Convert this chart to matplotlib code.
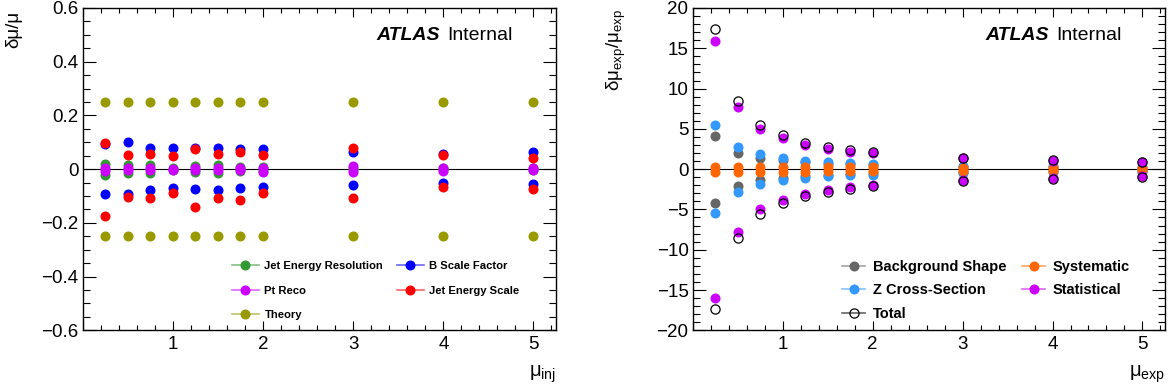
import matplotlib
matplotlib.use("Agg")
import matplotlib.pyplot as plt
from matplotlib.lines import Line2D
from matplotlib.ticker import MultipleLocator, FuncFormatter
from matplotlib.colors import to_rgba

plt.rcParams["font.family"] = ["Liberation Sans", "DejaVu Sans"]
plt.rcParams["mathtext.fontset"] = "custom"
plt.rcParams["mathtext.rm"] = "Liberation Sans"
plt.rcParams["mathtext.it"] = "Liberation Sans:italic"
plt.rcParams["mathtext.bf"] = "Liberation Sans:bold"

# --- injected-signal scan: relative uncertainty per source ---
mu_inj = [0.25, 0.5, 0.75, 1.0, 1.25, 1.5, 1.75, 2.0, 3, 4, 5]
jer_up = [0.020, 0.015, 0.015, 0.005, 0.012, 0.015, 0.008, 0.008, 0.005, 0.004, 0.003]
jer_dn = [-0.020, -0.015, -0.015, -0.005, -0.012, -0.015, -0.008, -0.008, -0.005, -0.004, -0.003]
bsf_up = [0.093, 0.101, 0.080, 0.080, 0.079, 0.079, 0.075, 0.074, 0.064, 0.057, 0.064]
bsf_dn = [-0.094, -0.091, -0.077, -0.069, -0.074, -0.077, -0.070, -0.067, -0.059, -0.053, -0.057]
ptreco_up = [0.005, 0.006, 0.004, 0.002, 0.003, 0.004, 0.003, 0.004, 0.012, 0.004, 0.004]
ptreco_dn = [-0.006, -0.005, -0.004, -0.003, -0.003, -0.004, -0.003, -0.010, -0.012, -0.006, -0.005]
jes_up = [0.099, 0.054, 0.058, 0.048, 0.075, 0.056, 0.064, 0.052, 0.080, 0.051, 0.043]
jes_dn = [-0.174, -0.104, -0.106, -0.090, -0.140, -0.106, -0.116, -0.089, -0.107, -0.065, -0.073]
theory_up = [0.25] * 11
theory_dn = [-0.25] * 11

# --- expected-signal scan ---
mu_exp = [0.25, 0.5, 0.75, 1.0, 1.25, 1.5, 1.75, 2.0, 3, 4, 5]
bkg_up = [4.15, 2.03, 1.33, 1.10, 0.85, 0.70, 0.60, 0.50, 0.30, 0.25, 0.20]
bkg_dn = [-4.20, -2.10, -1.37, -1.12, -0.88, -0.72, -0.62, -0.52, -0.30, -0.25, -0.20]
zxs_up = [5.44, 2.74, 1.83, 1.33, 1.04, 0.85, 0.74, 0.66, 0.41, 0.35, 0.30]
zxs_dn = [-5.50, -2.78, -1.87, -1.37, -1.08, -0.91, -0.77, -0.69, -0.50, -0.40, -0.35]
syst_up = [0.30, 0.30, 0.30, 0.30, 0.30, 0.28, 0.26, 0.25, 0.20, 0.18, 0.15]
syst_dn = [-0.30, -0.30, -0.30, -0.30, -0.30, -0.28, -0.26, -0.25, -0.20, -0.18, -0.15]
stat_up = [15.9, 7.76, 4.94, 3.82, 2.99, 2.53, 2.16, 1.95, 1.33, 1.04, 0.83]
stat_dn = [-16.0, -7.80, -4.98, -3.88, -3.05, -2.60, -2.24, -1.91, -1.37, -1.12, -0.91]
total_up = [17.35, 8.50, 5.48, 4.20, 3.28, 2.78, 2.40, 2.12, 1.42, 1.12, 0.90]
total_dn = [-17.4, -8.55, -5.56, -4.23, -3.32, -2.82, -2.42, -2.12, -1.45, -1.18, -0.95]

MS = 6.2
TICK_FS = 13.5


def num_fmt(v, _pos):
    return f"{round(v, 6):g}".replace("-", "\u2212")


def x_fmt(v, _pos):
    return "" if abs(v) < 1e-9 else num_fmt(v, _pos)


def style_axes(ax, ymaj, ymin):
    ax.set_xlim(0, 5.25)
    ax.xaxis.set_major_locator(MultipleLocator(1))
    ax.xaxis.set_minor_locator(MultipleLocator(0.2))
    ax.yaxis.set_major_locator(MultipleLocator(ymaj))
    ax.yaxis.set_minor_locator(MultipleLocator(ymin))
    ax.xaxis.set_major_formatter(FuncFormatter(x_fmt))
    ax.yaxis.set_major_formatter(FuncFormatter(num_fmt))
    ax.tick_params(which="both", direction="in", top=True, right=True,
                   width=0.8, labelsize=TICK_FS)
    ax.tick_params(axis="x", which="major", length=6.5, pad=4)
    ax.tick_params(axis="x", which="minor", length=3.3)
    ax.tick_params(axis="y", which="major", length=9.5, pad=3)
    ax.tick_params(axis="y", which="minor", length=5)
    for s in ax.spines.values():
        s.set_linewidth(1.0)
    ax.axhline(0, color="black", lw=0.8, zorder=1)


def band(ax, x, up, dn, color, hollow=False):
    kw = dict(ls="none", marker="o", ms=MS, color=color, zorder=3)
    if hollow:
        kw.update(mfc="none", mec=color, mew=0.9, ms=MS + 0.4)
    ax.plot(x, up, **kw)
    ax.plot(x, dn, **kw)


def handle(color, label, hollow=False):
    return Line2D([0], [0], color=to_rgba(color, 0.6), lw=1.2, marker="o",
                  ms=MS + (0.4 if hollow else 0),
                  mfc="none" if hollow else color, mec=color,
                  mew=0.9 if hollow else 1.0, label=label)


def atlas_label(ax):
    ax.text(0.62, 0.915, "ATLAS", transform=ax.transAxes, fontsize=14,
            fontweight="bold", fontstyle="italic", va="center")
    ax.text(0.77, 0.915, "Internal", transform=ax.transAxes, fontsize=14,
            va="center")


fig = plt.figure(figsize=(11.72, 3.92), dpi=100)
ax1 = fig.add_axes([0.0706, 0.1574, 0.4038, 0.8222])
ax2 = fig.add_axes([0.591, 0.1574, 0.403, 0.8222])

# left: systematic sources vs injected mu
c_jer, c_bsf, c_pt, c_jes, c_th = "#339933", "#0000ff", "#cc00ff", "#ff0000", "#999900"
band(ax1, mu_inj, jer_up, jer_dn, c_jer)
band(ax1, mu_inj, bsf_up, bsf_dn, c_bsf)
band(ax1, mu_inj, ptreco_up, ptreco_dn, c_pt)
band(ax1, mu_inj, jes_up, jes_dn, c_jes)
band(ax1, mu_inj, theory_up, theory_dn, c_th)
style_axes(ax1, 0.2, 0.05)
ax1.set_ylim(-0.6, 0.6)
ax1.set_ylabel("δμ/μ", fontsize=TICK_FS, loc="top")
ax1.yaxis.set_label_coords(-0.128, 0.99)
ax1.set_xlabel(r"μ$_{\rm inj}$", fontsize=TICK_FS + 1, loc="right")
ax1.xaxis.set_label_coords(1.0, -0.102)
ax1.xaxis.label.set_va("top")
h1 = [handle(c_jer, "Jet Energy Resolution"), handle(c_pt, "Pt Reco"),
      handle(c_th, "Theory"), handle(c_bsf, "B Scale Factor"),
      handle(c_jes, "Jet Energy Scale")]
ax1.legend(handles=h1, ncol=2, loc="upper left", bbox_to_anchor=(0.315, 0.214),
           frameon=False, borderpad=0, borderaxespad=0,
           prop={"size": 8.1, "weight": "bold"}, handlelength=2.4,
           handletextpad=0.5, labelspacing=1.28, columnspacing=1.2)
atlas_label(ax1)

# right: uncertainty breakdown vs expected mu
c_bkg, c_zxs, c_sys, c_stat = "#666666", "#3399ff", "#ff6600", "#cc00ff"
band(ax2, mu_exp, bkg_up, bkg_dn, c_bkg)
band(ax2, mu_exp, zxs_up, zxs_dn, c_zxs)
band(ax2, mu_exp, syst_up, syst_dn, c_sys)
band(ax2, mu_exp, stat_up, stat_dn, c_stat)
band(ax2, mu_exp, total_up, total_dn, "black", hollow=True)
style_axes(ax2, 5, 1)
ax2.set_ylim(-20, 20)
ax2.set_ylabel(r"δμ$_{\rm exp}$/μ$_{\rm exp}$", fontsize=TICK_FS, loc="top")
ax2.yaxis.set_label_coords(-0.137, 0.995)
ax2.set_xlabel(r"μ$_{\rm exp}$", fontsize=TICK_FS + 1, loc="right")
ax2.xaxis.set_label_coords(1.0, -0.102)
ax2.xaxis.label.set_va("top")
h2 = [handle(c_bkg, "Background Shape"), handle(c_zxs, "Z Cross-Section"),
      handle("black", "Total", hollow=True), handle(c_sys, "Systematic"),
      handle(c_stat, "Statistical")]
ax2.legend(handles=h2, ncol=2, loc="upper left", bbox_to_anchor=(0.316, 0.219),
           frameon=False, borderpad=0, borderaxespad=0,
           prop={"size": 10.5, "weight": "bold"}, handlelength=1.6,
           handletextpad=0.5, labelspacing=0.66, columnspacing=1.1)
atlas_label(ax2)

fig.savefig("out.png", dpi=100)
